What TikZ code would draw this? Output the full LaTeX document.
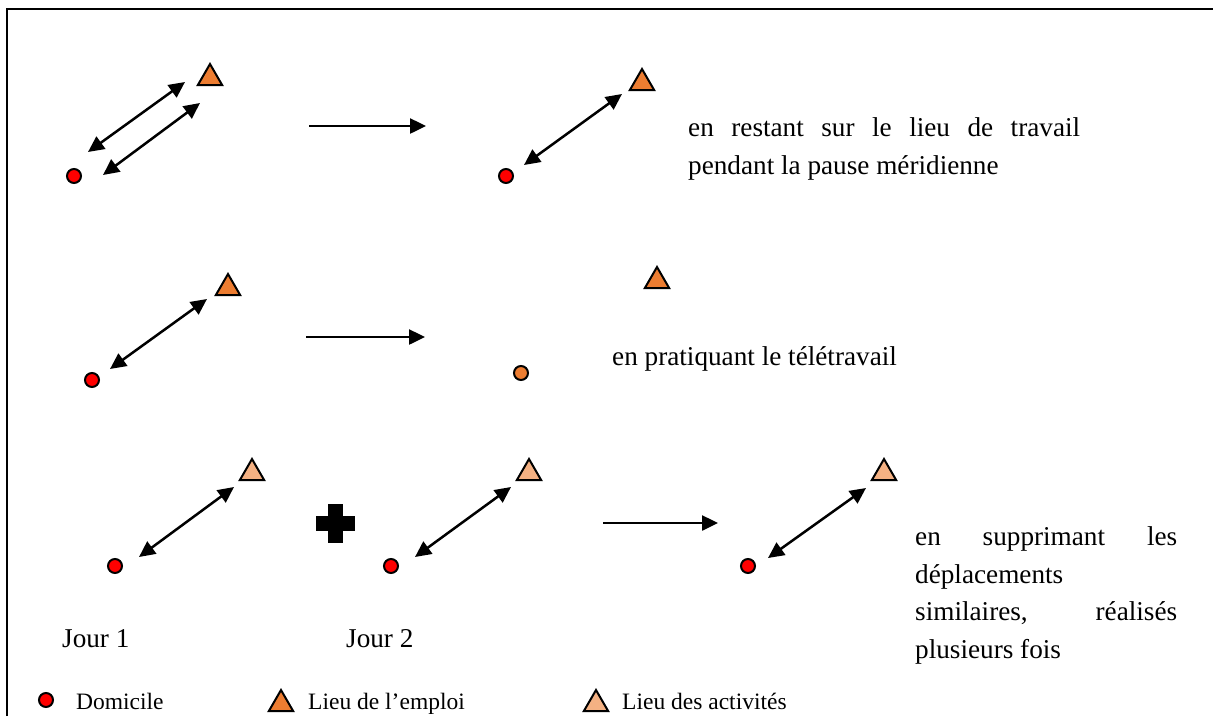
\documentclass[tikz,border=0pt]{standalone}
\usepackage{fontspec}
\setmainfont{Liberation Serif}
\usetikzlibrary{arrows.meta,shapes.geometric}
\definecolor{workc}{RGB}{237,125,49}
\definecolor{actc}{RGB}{244,177,131}
\begin{document}
\begin{tikzpicture}[x=1pt,y=-1pt,
  home/.style={circle,draw=black,line width=2pt,fill=red,minimum size=14pt,inner sep=0pt},
  work/.style={regular polygon,regular polygon sides=3,draw=black,line width=2pt,fill=workc,minimum size=28pt,inner sep=0pt},
  act/.style={work,fill=actc},
  dbl/.style={{Triangle[length=16pt,width=15pt]}-{Triangle[length=16pt,width=15pt]},line width=2.5pt},
  sgl/.style={-{Triangle[length=16pt,width=15pt]},line width=2.5pt},
  txt/.style={font=\fontsize{27.2}{37.5}\selectfont,inner sep=0pt,align=left},
  leg/.style={font=\fontsize{23.5}{28}\selectfont,inner sep=0pt,anchor=base west}
]
\useasboundingbox (0,0) rectangle (1213,716);
% frame
\draw[line width=2.5pt] (7,716) -- (7,9) -- (1213,9);

% row 1
\node[home] (h1) at (74,176) {};
\node[work] (w1) at (210,78) {};
\coordinate (a1s) at (88,152); \coordinate (a1e) at (185,82);
\coordinate (a2s) at (103,175); \coordinate (a2e) at (200,103);
\draw[dbl] (a1s) -- (a1e);
\draw[dbl] (a2s) -- (a2e);
\coordinate (r1s) at (309,126); \coordinate (r1e) at (426,126);
\draw[sgl] (r1s) -- (r1e);
\node[home] (h2) at (506,176) {};
\node[work] (w2) at (642,83) {};
\coordinate (a3s) at (524,165); \coordinate (a3e) at (622,94);
\draw[dbl] (a3s) -- (a3e);
\node[txt,anchor=base west] (t1) at (688,174) {\makebox[392pt][s]{en restant sur le lieu de travail}\\pendant la pause méridienne};

% row 2
\node[home] (h3) at (92,380) {};
\node[work] (w3) at (228,288) {};
\coordinate (a4s) at (110,369); \coordinate (a4e) at (207,299);
\draw[dbl] (a4s) -- (a4e);
\coordinate (r2s) at (306,337); \coordinate (r2e) at (425,337);
\draw[sgl] (r2s) -- (r2e);
\node[home,fill=workc] (h4) at (521,373) {};
\node[work] (w4) at (657,281) {};
\node[txt,anchor=base west] (t2) at (612,365) {en pratiquant le télétravail};

% row 3
\node[home] (h5) at (115,566) {};
\node[act] (w5) at (252,473) {};
\coordinate (a5s) at (139,557); \coordinate (a5e) at (234,487);
\draw[dbl] (a5s) -- (a5e);
\fill (327.5,503.5) rectangle (342.5,542.5);
\fill (315.5,515.5) rectangle (354.5,530.5);
\node[home] (h6) at (391,566) {};
\node[act] (w6) at (529,473) {};
\coordinate (a6s) at (415,557); \coordinate (a6e) at (511,487);
\draw[dbl] (a6s) -- (a6e);
\coordinate (r3s) at (603,523); \coordinate (r3e) at (718,523);
\draw[sgl] (r3s) -- (r3e);
\node[home] (h7) at (748,566) {};
\node[act] (w7) at (884,473) {};
\coordinate (a7s) at (768,558); \coordinate (a7e) at (866,488);
\draw[dbl] (a7s) -- (a7e);
\node[txt,anchor=base west] (t3) at (915,658) {\makebox[262pt][s]{en supprimant les}\\déplacements\\\makebox[262pt][s]{similaires, réalisés}\\plusieurs fois};

\node[txt,anchor=base west] (j1) at (62,647) {Jour 1};
\node[txt,anchor=base west] (j2) at (346,647) {Jour 2};

% legend
\node[home] (lh) at (46,700) {};
\node[leg] (lht) at (76,709) {Domicile};
\node[work] (lw) at (281,704) {};
\node[leg] (lwt) at (308,709) {Lieu de l’emploi};
\node[act] (la) at (596,704) {};
\node[leg] (lat) at (622,709) {Lieu des activités};
\end{tikzpicture}
\end{document}
